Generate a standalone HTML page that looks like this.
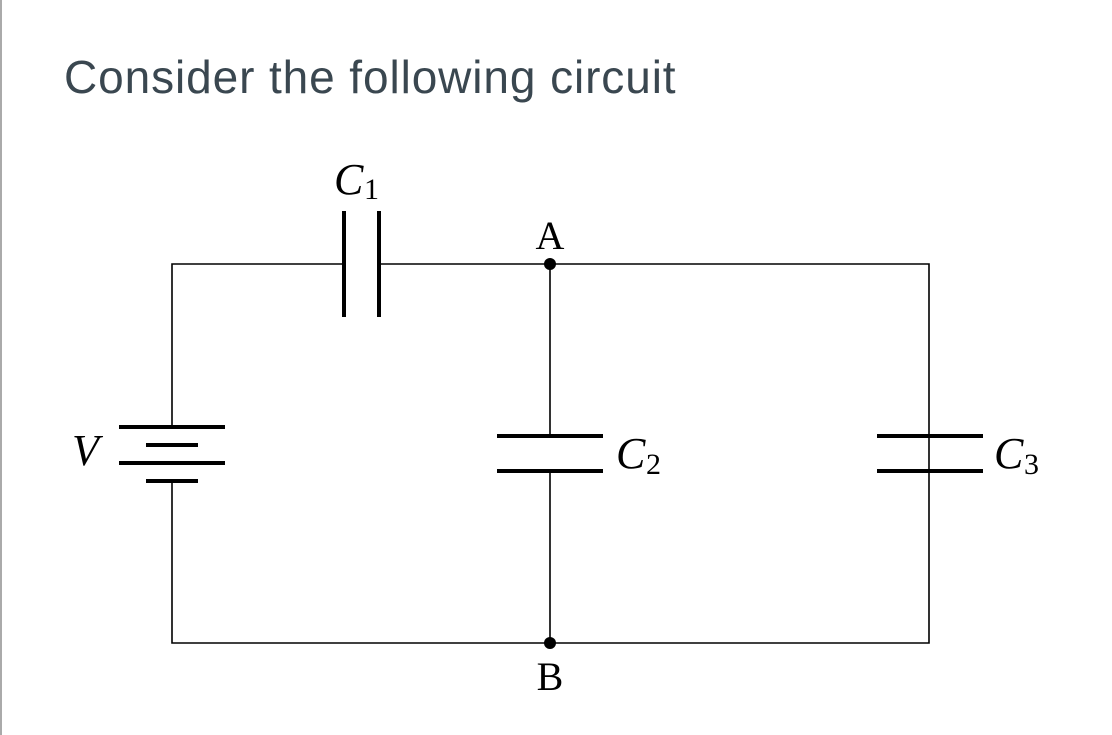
<!DOCTYPE html>
<html><head><meta charset="utf-8"><style>
html,body{margin:0;padding:0;background:#fff;}
body{width:1112px;height:735px;position:relative;overflow:hidden;}
.bar{position:absolute;left:0;top:0;width:2px;height:735px;background:#aaa;}
h1{position:absolute;left:64px;top:50px;margin:0;font:300 46px "Liberation Sans",sans-serif;color:#3a4750;letter-spacing:0.9px;}
</style></head><body>
<div class="bar"></div>
<h1>Consider the following circuit</h1>
<svg width="1112" height="735" style="position:absolute;left:0;top:0" font-family="Liberation Serif, serif">
<g stroke="#000" stroke-width="1.6" fill="none">
<path d="M172 427 V264 H344 M379 264 H929 V643 H172 V481"/>
<path d="M550 264 V435 M550 471 V643"/>
</g>
<g stroke="#000" stroke-width="4">
<line x1="344" y1="211" x2="344" y2="317"/>
<line x1="379" y1="211" x2="379" y2="317"/>
<line x1="119" y1="427" x2="225" y2="427"/>
<line x1="146" y1="445" x2="198" y2="445"/>
<line x1="119" y1="463" x2="225" y2="463"/>
<line x1="146" y1="481" x2="198" y2="481"/>
<line x1="497" y1="436" x2="603" y2="436"/>
<line x1="497" y1="471" x2="603" y2="471"/>
<line x1="877" y1="436" x2="983" y2="436"/>
<line x1="877" y1="471" x2="983" y2="471"/>
</g>
<circle cx="550" cy="264" r="6" fill="#000"/>
<circle cx="550" cy="643" r="6" fill="#000"/>
<g fill="#000" font-size="44">
<text x="334" y="194" font-style="italic">C</text><text x="364" y="199" font-size="30">1</text>
<text x="550" y="249" text-anchor="middle" font-size="40">A</text>
<text x="550" y="690" text-anchor="middle" font-size="40">B</text>
<text x="72" y="465" font-style="italic">V</text>
<text x="616" y="468" font-style="italic">C</text><text x="646" y="474" font-size="30">2</text>
<text x="994" y="468" font-style="italic">C</text><text x="1024" y="474" font-size="30">3</text>
</g>
</svg>
</body></html>
